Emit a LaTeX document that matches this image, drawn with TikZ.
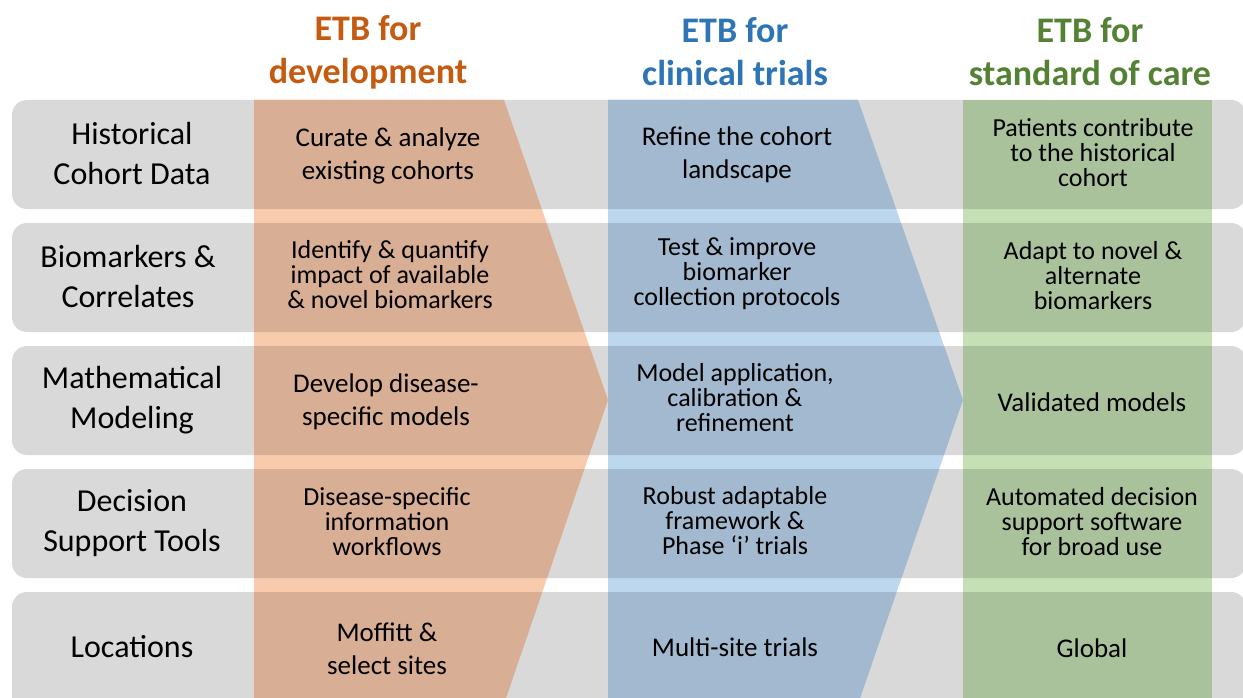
\documentclass[tikz,border=0pt]{standalone}
\usepackage{fontspec}
\setmainfont{Carlito}
\definecolor{rowgray}{HTML}{D9D9D9}
\definecolor{olight}{HTML}{F8CBAD}
\definecolor{odark}{HTML}{D8AE94}
\definecolor{blight}{HTML}{BDD7EE}
\definecolor{bdark}{HTML}{A2B9CF}
\definecolor{glight}{HTML}{C5E0B4}
\definecolor{gdark}{HTML}{A9C29B}
\definecolor{ohead}{HTML}{C55A11}
\definecolor{bhead}{HTML}{2E75B6}
\definecolor{ghead}{HTML}{548235}
\begin{document}
\begin{tikzpicture}[x=1pt,y=-1pt,
  rowbox/.style={fill=rowgray,rounded corners=15pt},
  hdr/.style={font=\fontsize{36}{43}\selectfont\bfseries,align=center,inner sep=0pt},
  lbl/.style={font=\fontsize{32}{40}\selectfont,align=center,inner sep=0pt},
  celltwo/.style={font=\fontsize{27}{33}\selectfont,align=center,inner sep=0pt},
  cellthree/.style={font=\fontsize{26}{25}\selectfont,align=center,inner sep=0pt},
  cellone/.style={font=\fontsize{27}{33}\selectfont,align=center,inner sep=0pt}]
\useasboundingbox (0,0) rectangle (1243,698);
\clip (0,0) rectangle (1243,698);
\fill[white] (0,0) rectangle (1243,698);
% column outlines
\coordinate (o1) at (254,100);
\coordinate (o2) at (504,100);
\coordinate (o3) at (608,400);
\coordinate (o4) at (502,710);
\coordinate (o5) at (254,710);
\coordinate (b1) at (608,100);
\coordinate (b2) at (858,100);
\coordinate (b3) at (963,400);
\coordinate (b4) at (856,710);
\coordinate (b5) at (608,710);
\coordinate (g1) at (963,100);
\coordinate (g2) at (1212,710);
% light columns (over white gaps)
\fill[olight] (o1) -- (o2) -- (o3) -- (o4) -- (o5) -- cycle;
\fill[blight] (b1) -- (b2) -- (b3) -- (b4) -- (b5) -- cycle;
\fill[glight] (g1) rectangle (g2);
% rows
\path[rowbox] (12,100) rectangle (1246,209);
\path[rowbox] (12,223) rectangle (1246,332);
\path[rowbox] (12,346) rectangle (1246,455);
\path[rowbox] (12,469) rectangle (1246,578);
\path[rowbox] (12,592) rectangle (1246,720);
% columns over rows
\begin{scope}
\clip[rounded corners=15pt] (12,100) rectangle (1246,209)
  (12,223) rectangle (1246,332)
  (12,346) rectangle (1246,455)
  (12,469) rectangle (1246,578)
  (12,592) rectangle (1246,720);
\fill[odark] (o1) -- (o2) -- (o3) -- (o4) -- (o5) -- cycle;
\fill[bdark] (b1) -- (b2) -- (b3) -- (b4) -- (b5) -- cycle;
\fill[gdark] (g1) rectangle (g2);
\end{scope}
% headers
\node[hdr,text=ohead] (h1) at (368,52) {ETB for\\development};
\node[hdr,text=bhead] (h2) at (735,52) {ETB for\\clinical trials};
\node[hdr,text=ghead] (h3) at (1090,52) {ETB for\\standard of care};
% row labels
\node[lbl] (l1) at (132,154) {Historical\\Cohort Data};
\node[lbl] (l2) at (128,277) {Biomarkers \&\\Correlates};
\node[lbl] (l3) at (132,400) {Mathematical\\Modeling};
\node[lbl] (l4) at (132,523) {Decision\\Support Tools};
\node[lbl] (l5) at (132,647) {Locations};
% row 1
\node[celltwo] (c11) at (388,155.5) {Curate \& analyze\\existing cohorts};
\node[celltwo] (c12) at (737,154.5) {Refine the cohort\\landscape};
\node[cellthree] (c13) at (1093,153) {Patients contribute\\to the historical\\cohort};
% row 2
\node[cellthree] (c21) at (390,275) {Identify \& quantify\\impact of available\\\& novel biomarkers};
\node[cellthree] (c22) at (737,274) {Test \& improve\\biomarker\\collection protocols};
\node[cellthree] (c23) at (1093,276) {Adapt to novel \&\\alternate\\biomarkers};
% row 3
\node[celltwo] (c31) at (386,401.5) {Develop disease-\\specific models};
\node[cellthree] (c32) at (735,398) {Model application,\\calibration \&\\refinement};
\node[cellone] (c33) at (1092,402) {Validated models};
% row 4
\node[cellthree] (c41) at (387,522) {Disease-specific\\information\\workflows};
\node[cellthree] (c42) at (735,521) {Robust adaptable\\framework \&\\Phase ‘i’ trials};
\node[cellthree] (c43) at (1092,522) {Automated decision\\support software\\for broad use};
% row 5
\node[celltwo] (c51) at (387,648.5) {Moffitt \&\\select sites};
\node[cellone] (c52) at (735,647) {Multi-site trials};
\node[cellone] (c53) at (1092,648) {Global};
\end{tikzpicture}
\end{document}
